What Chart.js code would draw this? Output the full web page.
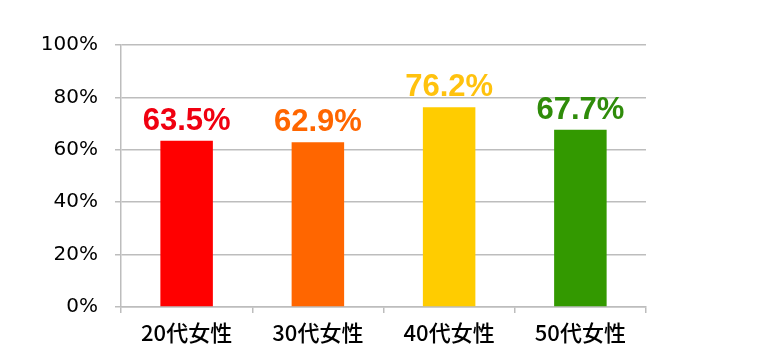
<!DOCTYPE html>
<html>
<head>
<meta charset="utf-8">
<script src="https://cdn.jsdelivr.net/npm/chart.js@4"></script>
<style>
  html, body { margin: 0; padding: 0; background: #fff; }
  #wrap { width: 766px; height: 360px; }
</style>
</head>
<body>
<div id="wrap"><canvas id="bars" width="766" height="360"></canvas></div>
<script>
const categories = ['20代女性', '30代女性', '40代女性', '50代女性'];
const values = [63.5, 62.9, 76.2, 67.7];
const barColors = ['#FF0000', '#FF6600', '#FFCC00', '#339900'];
const labelColors = ['#F00010', '#FF6600', '#FFC20E', '#2F8C0A'];
const yTicks = [0, 20, 40, 60, 80, 100];

// draws the value above each bar
const valueLabels = {
  id: 'valueLabels',
  afterDatasetsDraw(chart) {
    const ctx = chart.ctx;
    const meta = chart.getDatasetMeta(0);
    ctx.save();
    ctx.font = 'bold 31px "Liberation Sans", Arial, sans-serif';
    ctx.textAlign = 'center';
    ctx.textBaseline = 'alphabetic';
    meta.data.forEach((bar, i) => {
      ctx.fillStyle = labelColors[i];
      ctx.fillText(values[i].toFixed(1) + '%', bar.x, bar.y - 11);
    });
    ctx.restore();
  }
};

const ctx = document.getElementById('bars').getContext('2d');
new Chart(ctx, {
  type: 'bar',
  data: {
    labels: categories,
    datasets: [{
      data: values,
      backgroundColor: barColors,
      borderWidth: 0,
      barPercentage: 0.4,
      categoryPercentage: 1.0,
    }],
  },
  options: {
    responsive: false,
    animation: false,
    layout: { padding: { top: 45, right: 120, bottom: 0, left: 0 } },
    plugins: { legend: { display: false }, tooltip: { enabled: false } },
    scales: {
      x: {
        grid: {
          display: true,
          drawOnChartArea: false,
          tickLength: 6,
          color: '#BDBDBD',
          lineWidth: 1.5,
        },
        border: { color: '#BDBDBD', width: 1.5 },
        ticks: {
          color: '#000',
          padding: 6,
          font: { family: '"Noto Sans CJK JP", sans-serif', size: 22, weight: 500 },
        },
        afterFit(scale) { scale.height = 53; },
      },
      y: {
        min: 0,
        max: 100,
        afterBuildTicks(scale) { scale.ticks = yTicks.map(v => ({ value: v })); },
        grid: { color: '#BDBDBD', lineWidth: 1.5, tickLength: 6 },
        border: { color: '#BDBDBD', width: 1.5 },
        ticks: {
          color: '#000',
          padding: 17,
          font: { family: '"DejaVu Sans", sans-serif', size: 20 },
          callback: v => v + '%',
        },
        afterFit(scale) { scale.width = 121; },
      },
    },
  },
  plugins: [valueLabels],
});
</script>
</body>
</html>
